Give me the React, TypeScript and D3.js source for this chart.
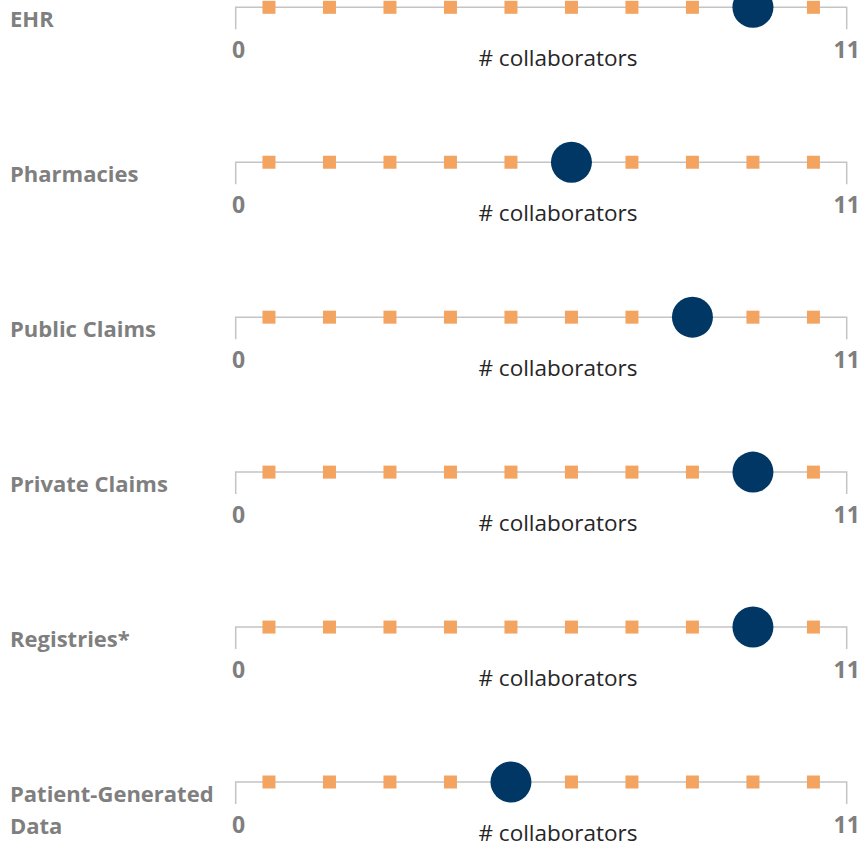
import React from 'react';
import * as d3 from 'd3';

// Data
const categories = ['EHR', 'Pharmacies', 'Public Claims', 'Private Claims', 'Registries*', 'Patient-Generated Data'];
const labelLines = [['EHR'], ['Pharmacies'], ['Public Claims'], ['Private Claims'], ['Registries*'], ['Patient-Generated', 'Data']];
const collaborators = [9, 6, 8, 9, 9, 5];
const scaleSteps = [1, 2, 3, 4, 5, 6, 7, 8, 9, 10];
const endLabels = ['0', '11'];
const axisTitle = '# collaborators';

const W = 860;
const H = 851;
const axisLeft = 235.7;
const axisRight = 846.7;

const grey = '#7f7f7f';
const lineColor = '#c4c4c4';
const orange = '#f4a461';
const navy = '#013764';

const App = () => {
  // step positions along each gauge
  const x = d3.scalePoint<number>()
    .domain(scaleSteps)
    .range([axisLeft, axisRight])
    .padding(0.55);

  // one row per data source
  const y = d3.scalePoint<string>()
    .domain(categories)
    .range([7.3, 782]);

  const sq = 13;

  return (
    <div style={{ position: 'absolute', left: 0, top: 0 }}>
      <svg width={W} height={H} style={{ display: 'block', background: '#fff' }}>
        {categories.map((cat, i) => {
          const cy = y(cat) as number;
          return (
            <g key={cat}>
              {/* row label */}
              <text
                x={10}
                y={cy + 20}
                fill={grey}
                fontFamily="'Open Sans', sans-serif"
                fontWeight={700}
                fontSize={22}
              >
                {labelLines[i].map((ln, j) => (
                  <tspan key={j} x={10} dy={j === 0 ? 0 : 31.7}>{ln}</tspan>
                ))}
              </text>

              {/* axis line with end ticks */}
              <path
                d={`M${axisLeft},${cy + 22}V${cy}H${axisRight}V${cy + 22}`}
                fill="none"
                stroke={lineColor}
                strokeWidth={1.5}
              />

              {/* step markers */}
              {scaleSteps.map(s => (
                <rect
                  key={s}
                  x={(x(s) as number) - sq / 2}
                  y={cy - sq / 2}
                  width={sq}
                  height={sq}
                  fill={orange}
                />
              ))}

              {/* value marker */}
              <circle cx={x(collaborators[i]) as number} cy={cy} r={20.5} fill={navy} />

              {/* end labels */}
              <text
                x={axisLeft + 3}
                y={cy + 51}
                textAnchor="middle"
                fill={grey}
                fontFamily="'Open Sans', sans-serif"
                fontWeight={700}
                fontSize={23}
              >
                {endLabels[0]}
              </text>
              <text
                x={axisRight}
                y={cy + 51}
                textAnchor="middle"
                fill={grey}
                fontFamily="'Open Sans', sans-serif"
                fontWeight={700}
                fontSize={23}
              >
                {endLabels[1]}
              </text>

              {/* axis title */}
              <text
                x={558}
                y={cy + 59}
                textAnchor="middle"
                fill="#262626"
                fontFamily="'Open Sans', sans-serif"
                fontSize={22.5}
              >
                {axisTitle}
              </text>
            </g>
          );
        })}
      </svg>
    </div>
  );
};

export default App;
